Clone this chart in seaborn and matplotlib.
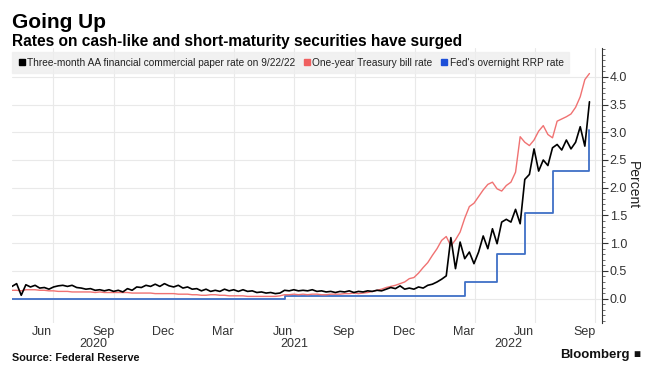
import pandas as pd
import matplotlib
matplotlib.use("Agg")
import matplotlib.pyplot as plt
import matplotlib.dates as mdates
import matplotlib.transforms as mtransforms
from matplotlib.lines import Line2D
import seaborn as sns

# Weekly readings, Apr 30 2020 .. Sep 22 2022
week_end = "2022-09-22"
n_weeks = 126

cp_rate = [
    0.22, 0.27, 0.06, 0.25, 0.21, 0.24, 0.19, 0.20, 0.17, 0.21,
    0.23, 0.24, 0.22, 0.24, 0.20, 0.19, 0.17, 0.18, 0.15, 0.16,
    0.14, 0.16, 0.13, 0.15, 0.12, 0.18, 0.15, 0.21, 0.20, 0.24,
    0.22, 0.26, 0.22, 0.27, 0.23, 0.21, 0.24, 0.19, 0.21, 0.17,
    0.18, 0.14, 0.17, 0.13, 0.15, 0.13, 0.17, 0.14, 0.16, 0.13,
    0.16, 0.13, 0.14, 0.11, 0.12, 0.10, 0.11, 0.09, 0.10, 0.15,
    0.14, 0.16, 0.14, 0.15, 0.14, 0.16, 0.13, 0.14, 0.12, 0.13,
    0.11, 0.13, 0.12, 0.14, 0.11, 0.13, 0.12, 0.14, 0.13, 0.15,
    0.14, 0.17, 0.20, 0.18, 0.23, 0.17, 0.19, 0.17, 0.21, 0.19,
    0.24, 0.26, 0.30, 0.35, 0.41, 1.10, 0.54, 1.02, 0.72, 0.84,
    0.63, 0.84, 1.13, 0.90, 1.26, 0.99, 1.38, 1.43, 1.38, 1.61,
    1.35, 2.15, 2.24, 2.70, 2.30, 2.50, 2.40, 2.72, 2.78, 2.68,
    2.86, 2.70, 2.82, 3.10, 2.75, 3.55,
]

tbill_rate = [
    0.15, 0.15, 0.14, 0.16, 0.16, 0.16, 0.15, 0.15, 0.14, 0.14,
    0.13, 0.13, 0.13, 0.12, 0.12, 0.12, 0.12, 0.12, 0.11, 0.12,
    0.11, 0.11, 0.11, 0.11, 0.11, 0.11, 0.10, 0.10, 0.10, 0.10,
    0.10, 0.09, 0.09, 0.09, 0.09, 0.09, 0.08, 0.08, 0.08, 0.07,
    0.07, 0.06, 0.06, 0.07, 0.07, 0.06, 0.06, 0.05, 0.05, 0.05,
    0.05, 0.04, 0.04, 0.04, 0.04, 0.04, 0.04, 0.04, 0.05, 0.07,
    0.07, 0.08, 0.07, 0.08, 0.07, 0.08, 0.08, 0.07, 0.07, 0.08,
    0.08, 0.08, 0.09, 0.09, 0.10, 0.09, 0.10, 0.11, 0.13, 0.15,
    0.17, 0.20, 0.22, 0.24, 0.27, 0.30, 0.36, 0.38, 0.46, 0.56,
    0.65, 0.78, 0.90, 1.05, 1.12, 0.95, 1.06, 1.20, 1.45, 1.66,
    1.72, 1.84, 1.96, 2.06, 2.10, 1.98, 1.94, 2.04, 2.10, 2.28,
    2.92, 2.82, 2.76, 2.86, 3.02, 3.12, 2.96, 2.90, 3.20, 3.24,
    3.28, 3.33, 3.45, 3.64, 3.95, 4.06,
]

# Fed overnight reverse repo rate, changes only on these dates
rrp_dates = ["2020-04-30", "2021-06-17", "2022-03-17", "2022-05-05",
             "2022-06-16", "2022-07-28", "2022-09-22"]
rrp_rate = [0.00, 0.05, 0.30, 0.80, 1.55, 2.30, 3.05]

series_labels = ["Three-month AA financial commercial paper rate on 9/22/22",
                 "One-year Treasury bill rate",
                 "Fed's overnight RRP rate"]
series_colors = ["#000000", "#f07272", "#3f6fc6"]
legend_colors = ["#000000", "#f06060", "#1d4fd8"]

x_start = "2020-04-30"
x_end = "2022-10-11"
year_labels = ["2020", "2021", "2022"]


def build_frames():
    dates = pd.date_range(end=week_end, periods=n_weeks, freq="7D")
    weekly = pd.DataFrame({"date": dates, "cp": cp_rate, "tbill": tbill_rate})
    rrp = pd.DataFrame({"date": pd.to_datetime(rrp_dates), "rate": rrp_rate})
    return weekly, rrp


def draw(weekly, rrp):
    sns.set_theme(style="white")
    plt.rcParams["font.family"] = ["Liberation Sans", "DejaVu Sans"]

    fig = plt.figure(figsize=(6.62, 3.8), dpi=100)
    ax = fig.add_axes([12 / 662, 1 - 323 / 380, 590 / 662, 275 / 380])

    sns.lineplot(data=rrp, x="date", y="rate", ax=ax, color=series_colors[2],
                 linewidth=1.3, drawstyle="steps-post")
    sns.lineplot(data=weekly, x="date", y="tbill", ax=ax, color=series_colors[1],
                 linewidth=1.0)
    sns.lineplot(data=weekly, x="date", y="cp", ax=ax, color=series_colors[0],
                 linewidth=1.2)

    ax.set_xlim(pd.Timestamp(x_start), pd.Timestamp(x_end))
    ax.set_ylim(-0.44, 4.52)
    ax.set_xlabel("")

    # y axis on the right
    ax.yaxis.tick_right()
    ax.yaxis.set_label_position("right")
    ax.set_ylabel("Percent", rotation=270, labelpad=9, fontsize=10, color="#222222")
    ax.set_yticks([0, 0.5, 1, 1.5, 2, 2.5, 3, 3.5, 4])
    ax.set_yticklabels(["0.0", "0.5", "1.0", "1.5", "2.0", "2.5", "3.0", "3.5", "4.0"])
    ax.yaxis.set_minor_locator(plt.MultipleLocator(0.1))
    ax.tick_params(axis="y", which="major", direction="out", length=4, width=0.8,
                   color="#333333", labelsize=9, labelcolor="#333333", pad=1.5, right=True)
    ax.tick_params(axis="y", which="minor", direction="out", length=2, width=0.6,
                   color="#555555", right=True)

    # quarter boundaries as gridlines, month names mid-month
    ax.xaxis.set_major_locator(mdates.MonthLocator(bymonth=[1, 4, 7, 10], bymonthday=1))
    ax.xaxis.set_major_formatter(plt.NullFormatter())
    ax.xaxis.set_minor_locator(mdates.MonthLocator(bymonth=[3, 6, 9, 12], bymonthday=15))
    ax.xaxis.set_minor_formatter(mdates.DateFormatter("%b"))
    ax.tick_params(axis="x", which="both", length=0, labelsize=9,
                   labelcolor="#333333", pad=2)

    ax.grid(True, which="major", color="#e9e9e9", linewidth=0.8)
    for side in ["left", "top", "bottom"]:
        ax.spines[side].set_visible(False)
    ax.spines["right"].set_color("#333333")
    ax.spines["right"].set_linewidth(0.8)

    # year labels centred under the visible part of each year
    trans = mtransforms.blended_transform_factory(ax.transData, ax.transAxes)
    lo, hi = pd.Timestamp(x_start), pd.Timestamp(x_end)
    for year in year_labels:
        a = max(lo, pd.Timestamp(year + "-01-01"))
        b = min(hi, pd.Timestamp(year + "-12-31"))
        mid = a + (b - a) / 2
        ax.text(mdates.date2num(mid), -0.075, year, transform=trans, ha="center",
                va="center", fontsize=9, color="#333333")

    handles = [Line2D([], [], marker="s", linestyle="", color=c, markersize=5)
               for c in legend_colors]
    leg = ax.legend(handles, series_labels, loc="upper left", bbox_to_anchor=(0, 0.985),
                    borderaxespad=0, ncol=3, fontsize=7.3, frameon=True,
                    handletextpad=0.1, columnspacing=0.8, borderpad=0.55,
                    handlelength=0.8)
    leg.get_frame().set_facecolor("#eeeeee")
    leg.get_frame().set_edgecolor("#eeeeee")
    leg.get_frame().set_boxstyle("square", pad=0)
    for t in leg.get_texts():
        t.set_color("#222222")

    fig.text(12 / 662, 1 - 28 / 380, "Going Up", fontsize=15, fontweight="bold",
             color="#000000", va="baseline")
    fig.text(12 / 662, 1 - 46 / 380,
             "Rates on cash-like and short-maturity securities have surged",
             fontsize=11.2, fontweight="bold", color="#000000", va="baseline")
    fig.text(12 / 662, 1 - 358 / 380, "Source: Federal Reserve", fontsize=7.8,
             fontweight="bold", color="#111111", va="center")
    fig.text(630 / 662, 1 - 355 / 380, "Bloomberg", fontsize=9.5, fontweight="bold",
             color="#111111", va="center", ha="right")
    fig.text(633 / 662, 1 - 355 / 380, "\u25a0", fontsize=8.5, color="#111111",
             va="center", ha="left")

    fig.savefig("out.png", dpi=100)


def main():
    weekly, rrp = build_frames()
    draw(weekly, rrp)


if __name__ == "__main__":
    main()
